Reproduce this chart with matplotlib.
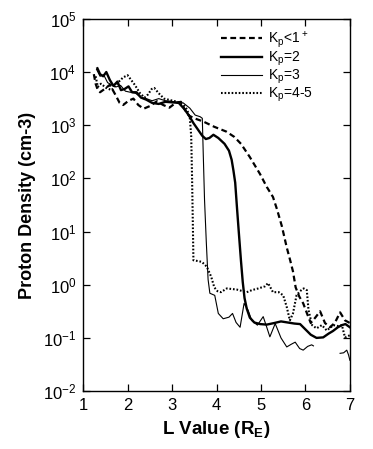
import numpy as np
import matplotlib
matplotlib.use('Agg')
import matplotlib.pyplot as plt
from matplotlib.ticker import NullLocator, LogLocator

plt.rcParams['font.family'] = ['Liberation Sans', 'DejaVu Sans']
plt.rcParams['mathtext.default'] = 'regular'

# Kp<1+  (dashed)
kp1_L = [1.24, 1.28, 1.33, 1.38, 1.48, 1.60, 1.72, 1.82, 1.90, 2.02, 2.13, 2.24, 2.36, 2.50,
         2.66, 2.80, 2.94, 3.08, 3.20, 3.28, 3.38, 3.50, 3.70, 3.95, 4.22, 4.40, 4.55, 4.75,
         4.98, 5.13, 5.27, 5.36, 5.47, 5.58, 5.66, 5.72, 5.78, 5.86, 5.95, 6.04, 6.12, 6.22,
         6.33, 6.44, 6.55, 6.66, 6.78, 6.89, 7.0]
kp1_log = [3.96, 3.78, 3.66, 3.62, 3.68, 3.76, 3.58, 3.42, 3.38, 3.46, 3.50, 3.38, 3.31, 3.36,
           3.45, 3.38, 3.33, 3.42, 3.44, 3.30, 3.18, 3.13, 3.07, 2.97, 2.88, 2.78, 2.65, 2.40,
           2.08, 1.84, 1.65, 1.42, 1.10, 0.70, 0.45, 0.25, -0.05, -0.22, -0.35, -0.55, -0.72, -0.62,
           -0.50, -0.72, -0.80, -0.72, -0.52, -0.67, -0.72]

# Kp=2  (thick solid)
kp2_L = [1.32, 1.38, 1.45, 1.52, 1.60, 1.68, 1.77, 1.85, 1.93, 2.02, 2.10, 2.20, 2.30, 2.42,
         2.55, 2.70, 2.85, 3.00, 3.15, 3.28, 3.38, 3.48, 3.58, 3.68, 3.76, 3.84, 3.93, 4.04,
         4.18, 4.28, 4.34, 4.38, 4.42, 4.46, 4.50, 4.55, 4.59, 4.63, 4.68, 4.75, 4.85, 4.98,
         5.13, 5.30, 5.45, 5.60, 5.75, 5.88, 6.00, 6.12, 6.25, 6.40, 6.52, 6.62, 6.73, 6.82,
         6.90, 7.0]
kp2_log = [4.07, 3.96, 3.92, 4.00, 3.85, 3.74, 3.82, 3.66, 3.68, 3.73, 3.62, 3.62, 3.52, 3.48,
           3.42, 3.40, 3.44, 3.43, 3.42, 3.30, 3.18, 3.04, 2.92, 2.80, 2.74, 2.76, 2.82, 2.76,
           2.65, 2.52, 2.35, 2.15, 1.92, 1.45, 1.00, 0.45, 0.05, -0.25, -0.45, -0.62, -0.71, -0.74,
           -0.75, -0.72, -0.69, -0.71, -0.73, -0.74, -0.84, -0.94, -1.00, -0.99, -0.92, -0.87,
           -0.80, -0.76, -0.74, -0.80]

# Kp=3  (thin solid, gap between 6.2 and 6.8)
kp3_L = [1.30, 1.38, 1.46, 1.55, 1.64, 1.74, 1.84, 1.95, 2.06, 2.18, 2.30, 2.42, 2.55, 2.70,
         2.85, 2.98, 3.12, 3.25, 3.40, 3.52, 3.63, 3.68, 3.70, 3.73, 3.77, 3.81, 3.85, 3.96,
         4.04, 4.15, 4.28, 4.36, 4.44, 4.53, 4.58, 4.62, 4.71, 4.79, 4.92, 5.05, 5.13, 5.20,
         5.32, 5.45, 5.58, 5.68, 5.77, 5.87, 5.95, 6.05, 6.14, 6.18, np.nan,
         6.78, 6.86, 6.93, 6.97, 7.0]
kp3_log = [4.05, 3.92, 3.95, 3.80, 3.76, 3.72, 3.75, 3.64, 3.62, 3.60, 3.52, 3.50, 3.46, 3.50,
           3.46, 3.45, 3.43, 3.42, 3.32, 3.19, 3.16, 3.13, 2.50, 1.60, 0.80, 0.10, -0.16, -0.20,
           -0.54, -0.64, -0.61, -0.54, -0.71, -0.80, -0.55, -0.35, -0.48, -0.67, -0.76, -0.60,
           -0.80, -0.98, -0.73, -1.00, -1.17, -1.12, -1.08, -1.20, -1.23, -1.16, -1.13, -1.15,
           np.nan, -1.29, -1.28, -1.23, -1.32, -1.42]

# Kp=4-5  (dotted)
kp4_L = [1.28, 1.33, 1.40, 1.52, 1.64, 1.78, 1.90, 2.00, 2.08, 2.16, 2.28, 2.38, 2.46, 2.54,
         2.60, 2.70, 2.82, 2.97, 3.12, 3.26, 3.34, 3.40, 3.43, 3.45, 3.47, 3.48, 3.55, 3.67,
         3.78, 3.88, 3.95, 4.02, 4.10, 4.23, 4.45, 4.68, 4.80, 4.94, 5.09, 5.16, 5.27, 5.40,
         5.50, 5.58, 5.65, 5.72, 5.80, 5.88, 5.96, 6.03, 6.07, 6.15, 6.25, 6.37, 6.48, 6.63,
         6.75, 6.82, 6.89, 7.0]
kp4_log = [3.92, 3.72, 3.78, 3.70, 3.66, 3.80, 3.90, 3.94, 3.85, 3.76, 3.60, 3.52, 3.58, 3.68,
           3.70, 3.60, 3.50, 3.47, 3.44, 3.38, 3.29, 3.13, 2.80, 2.00, 1.00, 0.46, 0.45, 0.43,
           0.34, 0.15, -0.05, -0.12, -0.14, -0.07, -0.09, -0.14, -0.10, -0.07, -0.03, 0.03, -0.14,
           -0.14, -0.20, -0.42, -0.67, -0.54, -0.20, -0.12, -0.07, -0.10, -0.48, -0.76, -0.82,
           -0.76, -0.86, -0.76, -0.78, -0.76, -0.99, -0.95]

labels = ['K$_p$<1$^+$', 'K$_p$=2', 'K$_p$=3', 'K$_p$=4-5']
x_ticks = [1, 2, 3, 4, 5, 6, 7]

fig = plt.figure(figsize=(3.73, 4.49), dpi=100)
ax = fig.add_axes([0.223, 0.129, 0.715, 0.829])

ax.plot(kp1_L, 10 ** np.array(kp1_log), color='black', lw=1.6,
        linestyle=(0, (2.6, 1.6)), label=labels[0])
ax.plot(kp2_L, 10 ** np.array(kp2_log), color='black', lw=1.7, label=labels[1])
ax.plot(kp3_L, 10 ** np.array(kp3_log), color='black', lw=0.8, label=labels[2])
ax.plot(kp4_L, 10 ** np.array(kp4_log), color='black', lw=1.5,
        linestyle=(0, (0.8, 0.9)), label=labels[3])

ax.set_yscale('log')
ax.set_xlim(1, 7)
ax.set_ylim(1e-2, 1e5)
ax.set_xticks(x_ticks)
ax.yaxis.set_major_locator(LogLocator(base=10, numticks=10))
ax.yaxis.set_minor_locator(NullLocator())
ax.tick_params(direction='in', length=5, width=0.9, top=True, right=True,
               labelsize=12, pad=5)
for s in ax.spines.values():
    s.set_linewidth(1.0)

ax.set_xlabel('L Value (R$_E$)', fontsize=13.5, fontweight='bold', labelpad=4)
ax.set_ylabel('Proton Density (cm-3)', fontsize=13, fontweight='bold', labelpad=5)

ax.legend(loc='upper left', bbox_to_anchor=(0.515, 0.972), frameon=False,
          fontsize=10, handlelength=3.0, handletextpad=0.45, labelspacing=0.0,
          borderaxespad=0.0, borderpad=0.0)

fig.savefig('out.png', dpi=100)
